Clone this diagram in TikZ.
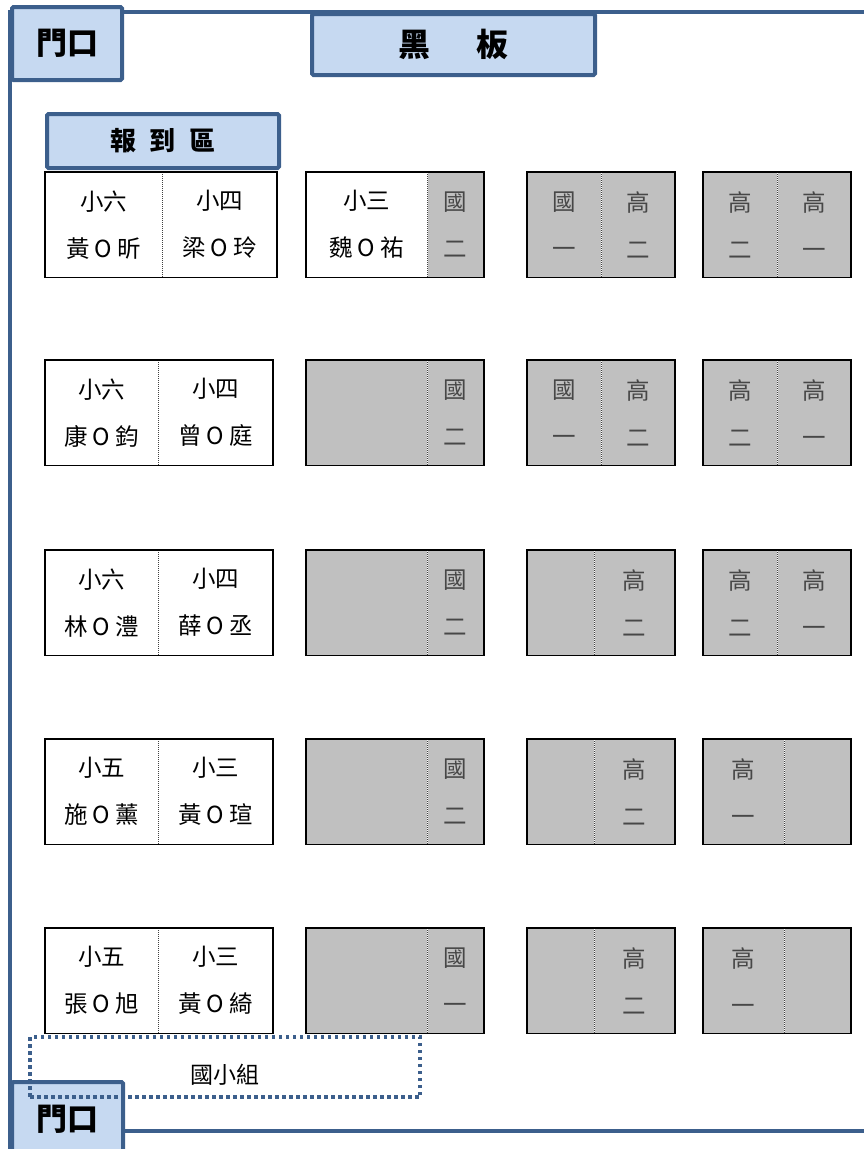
\documentclass[tikz,border=0pt]{standalone}
\usepackage{fontspec}
\setmainfont{Noto Sans CJK TC}
\definecolor{azul}{HTML}{3C5F8C}
\definecolor{celeste}{HTML}{C6D9F1}
\definecolor{gris}{HTML}{C0C0C0}

\begin{document}
\begin{tikzpicture}[x=1pt,y=-1pt,
    pared/.style={draw=azul,line width=4pt},
    letrero/.style={draw=azul,fill=celeste,line width=4pt,rounded corners=1.5pt,
      inner sep=0pt,anchor=north west,font=\bfseries\fontsize{31}{34}\selectfont},
    celda/.style={inner sep=0pt,anchor=north west,minimum height=105pt,align=center,
      font=\fontsize{23.5}{47}\selectfont},
    blanco/.style={celda,fill=white},
    oscuro/.style={celda,fill=gris,text=black!72},
    mesa/.style={draw=black,line width=1.6pt},
    corte/.style={draw=black!75,line width=0.8pt,dash pattern=on 1pt off 1pt}]

  \useasboundingbox (0,0) rectangle (864,1149);

  % paredes
  \draw[pared] (10,1149) -- (10,12) -- (864,12);
  \draw[pared] (121,1131) -- (864,1131);

  \node[letrero,minimum width=110pt,minimum height=73pt] (puertaA) at (10,5) {門口\hspace{3pt}};
  \node[letrero,minimum width=283pt,minimum height=61pt,
    font=\bfseries\fontsize{32}{36}\selectfont] (pizarra) at (310,12) {黑\hspace{46pt}板};
  \node[letrero,minimum width=232pt,minimum height=54pt,
    font=\bfseries\fontsize{26}{30}\selectfont] (registro) at (45,112) {報\hspace{14pt}到\hspace{14pt}區};

  % fila 1
  \node[blanco,minimum width=117pt] (f1a) at (45,172) {小六\\黃 O 昕};
  \node[blanco,minimum width=114pt] (f1b) at (f1a.north east) {小四\\梁 O 玲};
  \node[blanco,minimum width=121pt] (f1c) at (306,172) {小三\\魏 O 祐};
  \node[oscuro,minimum width=56pt] (f1d) at (f1c.north east) {國\\二};
  \node[oscuro,minimum width=74pt] (f1e) at (527,172) {國\\一};
  \node[oscuro,minimum width=73pt] (f1f) at (f1e.north east) {高\\二};
  \node[oscuro,minimum width=74pt] (f1g) at (703,172) {高\\二};
  \node[oscuro,minimum width=73pt] (f1h) at (f1g.north east) {高\\一};

  % fila 2
  \node[blanco,minimum width=113pt] (f2a) at (45,360) {小六\\康 O 鈞};
  \node[blanco,minimum width=114pt] (f2b) at (f2a.north east) {小四\\曾 O 庭};
  \node[oscuro,minimum width=121pt] (f2c) at (306,360) {};
  \node[oscuro,minimum width=56pt] (f2d) at (f2c.north east) {國\\二};
  \node[oscuro,minimum width=74pt] (f2e) at (527,360) {國\\一};
  \node[oscuro,minimum width=73pt] (f2f) at (f2e.north east) {高\\二};
  \node[oscuro,minimum width=74pt] (f2g) at (703,360) {高\\二};
  \node[oscuro,minimum width=73pt] (f2h) at (f2g.north east) {高\\一};

  % fila 3
  \node[blanco,minimum width=113pt] (f3a) at (45,550) {小六\\林 O 澧};
  \node[blanco,minimum width=114pt] (f3b) at (f3a.north east) {小四\\薛 O 丞};
  \node[oscuro,minimum width=121pt] (f3c) at (306,550) {};
  \node[oscuro,minimum width=56pt] (f3d) at (f3c.north east) {國\\二};
  \node[oscuro,minimum width=67pt] (f3e) at (527,550) {};
  \node[oscuro,minimum width=80pt] (f3f) at (f3e.north east) {高\\二};
  \node[oscuro,minimum width=74pt] (f3g) at (703,550) {高\\二};
  \node[oscuro,minimum width=73pt] (f3h) at (f3g.north east) {高\\一};

  % fila 4
  \node[blanco,minimum width=113pt] (f4a) at (45,739) {小五\\施 O 薰};
  \node[blanco,minimum width=114pt] (f4b) at (f4a.north east) {小三\\黃 O 瑄};
  \node[oscuro,minimum width=121pt] (f4c) at (306,739) {};
  \node[oscuro,minimum width=56pt] (f4d) at (f4c.north east) {國\\二};
  \node[oscuro,minimum width=67pt] (f4e) at (527,739) {};
  \node[oscuro,minimum width=80pt] (f4f) at (f4e.north east) {高\\二};
  \node[oscuro,minimum width=81pt] (f4g) at (703,739) {高\\一};
  \node[oscuro,minimum width=66pt] (f4h) at (f4g.north east) {};

  % fila 5
  \node[blanco,minimum width=113pt] (f5a) at (45,928) {小五\\張 O 旭};
  \node[blanco,minimum width=114pt] (f5b) at (f5a.north east) {小三\\黃 O 綺};
  \node[oscuro,minimum width=121pt] (f5c) at (306,928) {};
  \node[oscuro,minimum width=56pt] (f5d) at (f5c.north east) {國\\一};
  \node[oscuro,minimum width=67pt] (f5e) at (527,928) {};
  \node[oscuro,minimum width=80pt] (f5f) at (f5e.north east) {高\\二};
  \node[oscuro,minimum width=81pt] (f5g) at (703,928) {高\\一};
  \node[oscuro,minimum width=66pt] (f5h) at (f5g.north east) {};

  \foreach \f in {1,...,5} {
    \foreach \i/\j in {a/b,c/d,e/f,g/h} {
      \draw[corte] (f\f\i.north east) -- (f\f\i.south east);
      \draw[mesa] (f\f\i.north west) rectangle (f\f\j.south east);
    }
  }

  \node[letrero,minimum width=111pt,minimum height=74pt] (puertaB) at (10,1080) {門口\hspace{3pt}};

  \node[draw=azul,line width=4pt,dash pattern=on 3.5pt off 3.5pt,inner sep=0pt,
    anchor=north west,minimum width=390pt,minimum height=60pt] (grupo) at (28,1035) {};
  \node[font=\fontsize{23}{26}\selectfont] (grupotexto) at ([yshift=-8pt]grupo.center) {國小組};

\end{tikzpicture}
\end{document}
